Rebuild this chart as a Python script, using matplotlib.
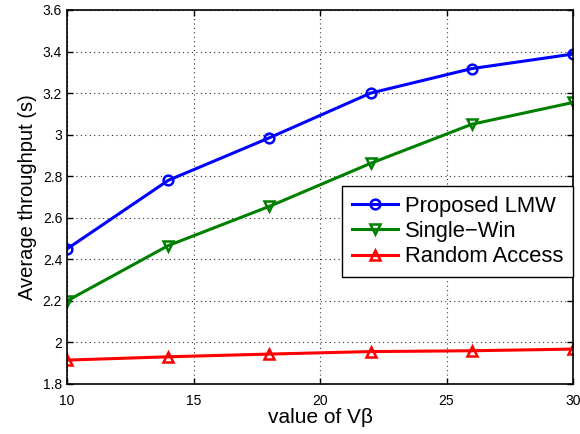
import matplotlib
matplotlib.use("Agg")
import matplotlib.pyplot as plt

x_vals = [10, 14, 18, 22, 26, 30]
lmw = [2.45, 2.78, 2.985, 3.20, 3.318, 3.388]
single_win = [2.20, 2.466, 2.655, 2.862, 3.05, 3.155]
random_access = [1.915, 1.931, 1.944, 1.956, 1.96, 1.968]
x_ticks = [10, 15, 20, 25, 30]
y_ticks = [1.8, 2.0, 2.2, 2.4, 2.6, 2.8, 3.0, 3.2, 3.4, 3.6]
y_tick_labels = ["1.8", "2", "2.2", "2.4", "2.6", "2.8", "3", "3.2", "3.4", "3.6"]

plt.rcParams['font.family'] = ['Liberation Sans', 'DejaVu Sans']

fig = plt.figure(figsize=(5.8, 4.34), dpi=100)
ax = fig.add_axes([67/580, 1-384/434, (573-67)/580, (384-10)/434])

kw = dict(linewidth=2.2, markersize=7, markerfacecolor='none', markeredgewidth=1.8)
ax.plot(x_vals, lmw, '-o', color='#0000ff', label='Proposed LMW', **kw)
ax.plot(x_vals, single_win, '-v', color='#008000', label='Single\u2212Win', **kw)
ax.plot(x_vals, random_access, '-^', color='#ff0000', label='Random Access', **kw)

ax.set_xlim(10, 30)
ax.set_ylim(1.8, 3.6)
ax.set_xticks(x_ticks)
ax.set_yticks(y_ticks)
ax.set_yticklabels(y_tick_labels)
ax.tick_params(direction='in', top=True, right=True, labelsize=10, length=4, width=1)
ax.tick_params(axis='x', pad=7)
ax.grid(True, linestyle=(0, (1, 3)), color='#333333', linewidth=0.8)
for s in ax.spines.values():
    s.set_linewidth(1.2)

ax.set_xlabel('value of V\u03b2', fontsize=15, labelpad=0)
ax.set_ylabel('Average throughput (s)', fontsize=14.5, labelpad=4)

leg = ax.legend(loc='upper right', bbox_to_anchor=(1.0, 0.53), fontsize=15.8,
                fancybox=False, framealpha=1, edgecolor='black',
                borderpad=0.45, labelspacing=0.2, handlelength=2.1,
                handletextpad=0.3, borderaxespad=0)
leg.get_frame().set_linewidth(1.0)

fig.savefig('out.png', dpi=100)
